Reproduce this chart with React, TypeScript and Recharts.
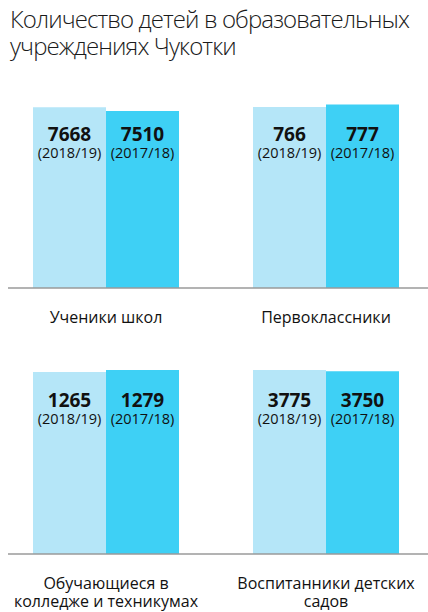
import React from 'react';
import { BarChart, Bar, XAxis, YAxis, LabelList } from 'recharts';

const categories = ['Ученики школ', 'Первоклассники', 'Обучающиеся в\nколледже и техникумах', 'Воспитанники детских\nсадов'];
const current = [7668, 766, 1265, 3775];
const previous = [7510, 777, 1279, 3750];
const yearLabels = ['(2018/19)', '(2017/18)'];

// per-panel scale tops, so each pair fills the panel like in the original
const scaleMax = [8060, 804, 1321, 3898];

const FONT = '"Open Sans", "Liberation Sans", sans-serif';
const PLOT_H = 190;

const panels = [
  { left: 0, top: 90, height: 250, margin: { top: 8, right: 0, left: 8, bottom: 0 }, pad: { left: 0, right: 10 } },
  { left: 214, top: 90, height: 250, margin: { top: 8, right: 0, left: 0, bottom: 0 }, pad: { left: 10, right: 0 } },
  { left: 0, top: 356, height: 256, margin: { top: 8, right: 0, left: 8, bottom: 0 }, pad: { left: 0, right: 10 } },
  { left: 214, top: 356, height: 256, margin: { top: 8, right: 0, left: 0, bottom: 0 }, pad: { left: 10, right: 0 } },
];

const CategoryTick = (props: any) => {
  const { x, y, payload } = props;
  const lines = String(payload.value).split('\n');
  return (
    <text x={x} y={y + 35} textAnchor="middle" fontFamily={FONT} fontSize={16} fill="#111">
      {lines.map((l, i) => (
        <tspan key={i} x={x} dy={i === 0 ? 0 : 18}>{l}</tspan>
      ))}
    </text>
  );
};

const makeLabel = (year: string) => (props: any) => {
  const { x, y, width, height, value } = props;
  const cx = x + width / 2;
  const base = y + height;
  return (
    <g>
      <text x={cx} y={base - 147} textAnchor="middle" fontFamily={FONT} fontWeight={700} fontSize={19} fill="#111">
        {value}
      </text>
      <text x={cx} y={base - 130} textAnchor="middle" fontFamily={FONT} fontSize={14.5} fill="#111">
        {year}
      </text>
    </g>
  );
};

export default function App() {
  return (
    <div style={{ position: 'absolute', left: 0, top: 0, width: 428, height: 612, background: '#fff', overflow: 'hidden' }}>
      <div
        style={{
          position: 'absolute',
          left: 10,
          top: 5,
          fontFamily: FONT,
          fontWeight: 300,
          fontSize: 24,
          lineHeight: '27px',
          color: '#1a1a1a',
          letterSpacing: -0.9,
          whiteSpace: 'nowrap',
        }}
      >
        Количество детей в образовательных
        <br />
        учреждениях Чукотки
      </div>
      {panels.map((p, i) => {
        const data = [{ name: categories[i], cur: current[i], prev: previous[i] }];
        return (
          <div key={i} style={{ position: 'absolute', left: p.left, top: p.top }}>
            <BarChart width={214} height={p.height} data={data} margin={p.margin} barGap={0} barSize={73}>
              <YAxis hide domain={[0, scaleMax[i]]} />
              <XAxis
                dataKey="name"
                height={p.height - p.margin.top - PLOT_H}
                padding={p.pad}
                axisLine={{ stroke: '#9a9a9a', strokeWidth: 1.5 }}
                tickLine={false}
                tickSize={0}
                tickMargin={0}
                tick={<CategoryTick />}
                interval={0}
              />
              <Bar dataKey="cur" fill="#b5e6f8" isAnimationActive={false}>
                <LabelList dataKey="cur" content={makeLabel(yearLabels[0])} />
              </Bar>
              <Bar dataKey="prev" fill="#3ed0f5" isAnimationActive={false}>
                <LabelList dataKey="prev" content={makeLabel(yearLabels[1])} />
              </Bar>
            </BarChart>
          </div>
        );
      })}
    </div>
  );
}
